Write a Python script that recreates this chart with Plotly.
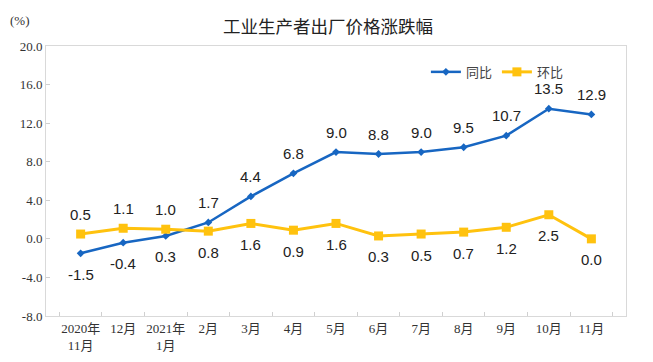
import plotly.graph_objects as go

categories = ["2020年<br>11月", "12月", "2021年<br>1月", "2月", "3月", "4月", "5月",
              "6月", "7月", "8月", "9月", "10月", "11月"]
yoy = [-1.5, -0.4, 0.3, 1.7, 4.4, 6.8, 9.0, 8.8, 9.0, 9.5, 10.7, 13.5, 12.9]
mom = [0.5, 1.1, 1.0, 0.8, 1.6, 0.9, 1.6, 0.3, 0.5, 0.7, 1.2, 2.5, 0.0]
yoy_above = [False] * 3 + [True] * 10
mom_above = [True] * 3 + [False] * 10
y_ticks = [-8.0, -4.0, 0.0, 4.0, 8.0, 12.0, 16.0, 20.0]

BLUE = "#1766C2"
YELLOW = "#FFC20E"
label_font = dict(family="Liberation Sans, Arial, sans-serif", size=15, color="#222")
axis_font = dict(family="Liberation Serif, Noto Sans CJK SC, serif", size=13, color="#333")

fig = go.Figure()
fig.add_trace(go.Scatter(
    x=categories, y=yoy, name="同比", mode="lines+markers",
    line=dict(color=BLUE, width=2.5),
    marker=dict(symbol="diamond", size=6, color=BLUE),
))
fig.add_trace(go.Scatter(
    x=categories, y=mom, name="环比", mode="lines+markers",
    line=dict(color=YELLOW, width=3),
    marker=dict(symbol="square", size=9, color=YELLOW),
))

annotations = []
for series, above in ((yoy, yoy_above), (mom, mom_above)):
    for c, v, a in zip(categories, series, above):
        annotations.append(dict(x=c, y=v, xref="x", yref="y", text=f"{v:.1f}",
                                showarrow=False, font=label_font,
                                yshift=20 if a else -21))
annotations.append(dict(text="(%)", x=-0.045, y=1.096, xref="paper", yref="paper",
                        showarrow=False, font=axis_font, xanchor="center", yanchor="middle"))

# page body has an 8px default margin, so the figure is offset by (8, 8)
fig.update_layout(
    width=645, height=354,
    margin=dict(l=38, r=27, t=38, b=46),
    paper_bgcolor="white", plot_bgcolor="white",
    title=dict(text="工业生产者出厂价格涨跌幅", x=0.496, xanchor="center", y=0.946, yanchor="middle",
               font=dict(family="Noto Sans CJK SC, sans-serif", size=17.5, color="#222")),
    legend=dict(orientation="h", x=0.655, y=0.904, xanchor="left", yanchor="middle",
                font=dict(family="Noto Sans CJK SC, sans-serif", size=13, color="#444"),
                bgcolor="rgba(0,0,0,0)", itemwidth=30),
    showlegend=True,
    xaxis=dict(type="category", tickson="boundaries", ticks="inside", ticklen=4,
               tickcolor="#d0d0d0", showgrid=False, showline=True, linecolor="#d9d9d9",
               mirror=True, tickfont=axis_font, zeroline=False, tickangle=0, automargin=False),
    yaxis=dict(range=[-8, 20], tickvals=y_ticks, ticktext=[f"{v:.1f}" for v in y_ticks],
               ticks="inside", ticklen=4, tickcolor="#d0d0d0", showgrid=False, showline=True,
               linecolor="#d9d9d9", mirror=True, tickfont=axis_font, zeroline=False,
               automargin=False),
    annotations=annotations,
)

fig.write_html("out.html")
